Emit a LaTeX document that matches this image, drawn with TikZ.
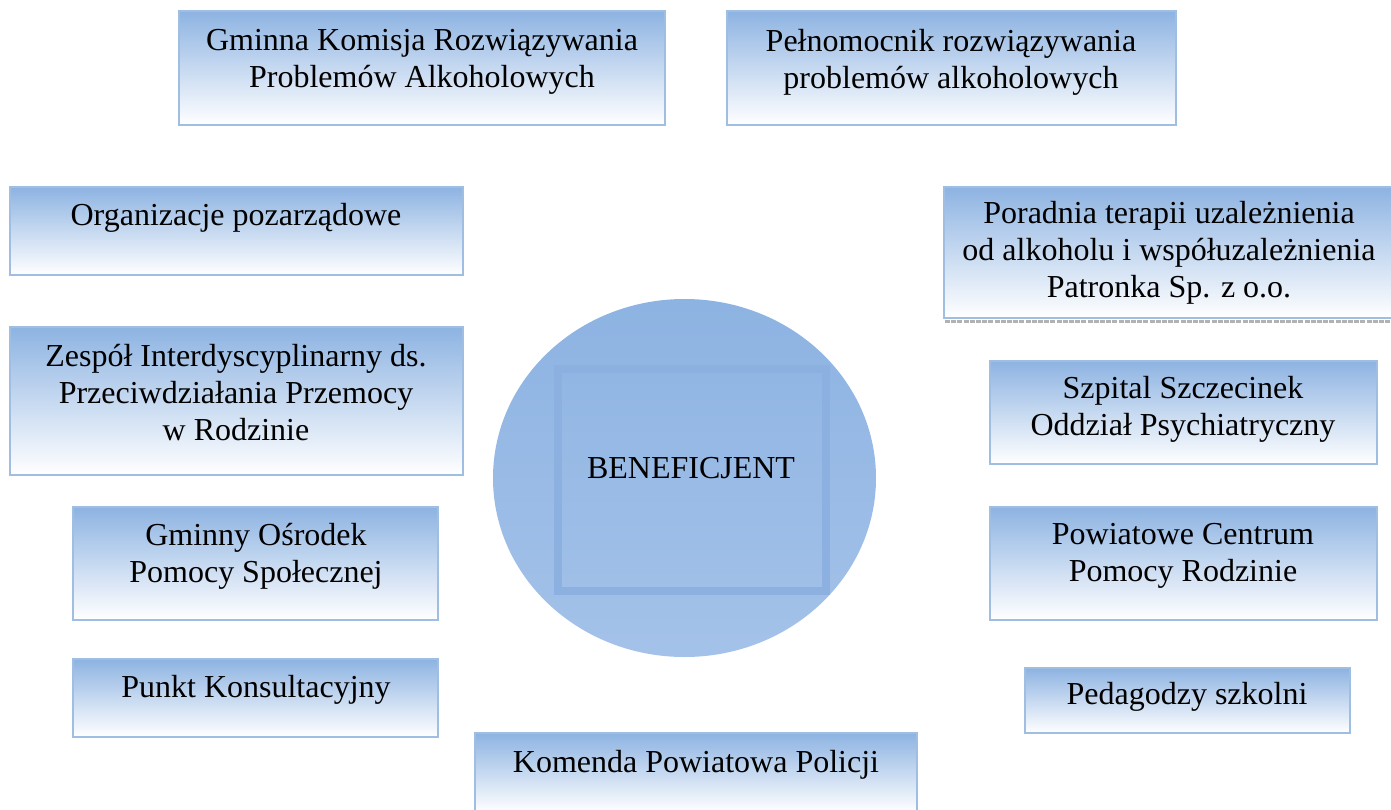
\documentclass[tikz,border=0pt]{standalone}
\usepackage{fontspec}
\setmainfont{Liberation Serif}
\definecolor{boxblue}{RGB}{141,179,226}
\definecolor{edgeblue}{RGB}{160,190,226}
\definecolor{circlelow}{RGB}{164,194,233}
\definecolor{rimblue}{RGB}{140,176,223}
\tikzset{
  orgbox/.style={draw=edgeblue, line width=1pt, top color=boxblue, bottom color=white},
  orgtext/.style={align=center, inner sep=0pt, font=\fontsize{16}{18.5}\selectfont},
}
\begin{document}
\begin{tikzpicture}[x=0.5pt,y=-0.5pt]
    \useasboundingbox (0,0) rectangle (1391,809);
    % centre
    \path[top color=boxblue, bottom color=circlelow] (684.5,478) ellipse [x radius=191.5, y radius=179];
    \draw[rimblue, line width=4pt] (558,369) rectangle (826,591);
    \node[orgtext] (benef) at (691,468) {BENEFICJENT};
    % boxes, top row
    \path[orgbox] (179,11) rectangle (665,125);
    \node[orgtext] (gkrpa) at (422,62) {Gminna Komisja Rozwiązywania\\Problemów Alkoholowych};
    \path[orgbox] (727,11) rectangle (1176,125);
    \node[orgtext] (pelnom) at (951,62) {Pełnomocnik rozwiązywania\\problemów alkoholowych};
    % left column
    \path[orgbox] (10,187) rectangle (463,275);
    \node[orgtext] (ngo) at (236,218) {Organizacje pozarządowe};
    \path[orgbox] (10,327) rectangle (463,475);
    \node[orgtext] (zespol) at (236,393) {Zespół Interdyscyplinarny ds.\\Przeciwdziałania Przemocy\\w Rodzinie};
    \path[orgbox] (73,507) rectangle (438,620);
    \node[orgtext] (gops) at (256,556) {Gminny Ośrodek\\Pomocy Społecznej};
    \path[orgbox] (73,659) rectangle (438,737);
    \node[orgtext] (punkt) at (256,690) {Punkt Konsultacyjny};
    % right column
    \path[orgbox] (944,187) rectangle (1392,318);
    \draw[gray!60, line width=1.5pt, dash pattern=on 2.5pt off 0.6pt] (945,321) -- (1391,321);
    \node[orgtext] (poradnia) at (1169,253) {Poradnia terapii uzależnienia\\od alkoholu i współuzależnienia\\Patronka Sp. z o.o.};
    \path[orgbox] (990,361) rectangle (1377,464);
    \node[orgtext] (szpital) at (1183,409) {Szpital Szczecinek\\Oddział Psychiatryczny};
    \path[orgbox] (990,507) rectangle (1377,620);
    \node[orgtext] (pcpr) at (1183,556) {Powiatowe Centrum\\Pomocy Rodzinie};
    \path[orgbox] (1025,668) rectangle (1350,733);
    \node[orgtext] (pedag) at (1187,697) {Pedagodzy szkolni};
    % bottom
    \path[orgbox] (475,733) rectangle (917,812);
    \node[orgtext] (policja) at (696,765) {Komenda Powiatowa Policji};
\end{tikzpicture}
\end{document}
